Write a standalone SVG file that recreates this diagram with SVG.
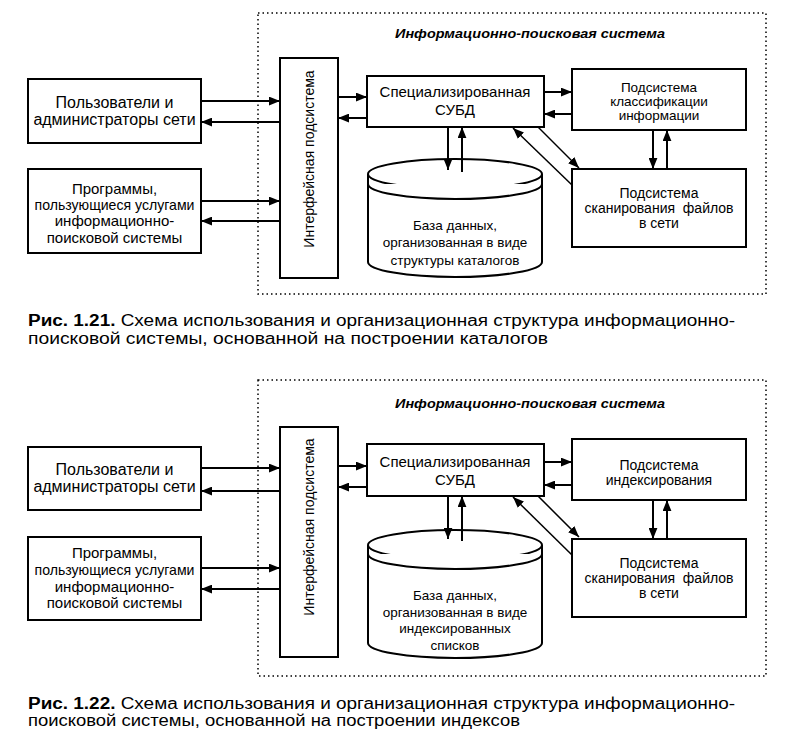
<svg xmlns="http://www.w3.org/2000/svg" width="797" height="746" viewBox="0 0 797 746">
<style>
text{font-family:"Liberation Sans","Arial",sans-serif;fill:#000}
.t{font-size:13.5px;text-anchor:middle}
.s16{font-size:16px}
.s15{font-size:15px}
.s15b{font-size:15px}
.s14{font-size:14px}
.s13{font-size:13.5px}
.ti{font-size:13px;font-weight:bold;font-style:italic;text-anchor:middle}
.cap{font-size:16px}
.box{fill:#fff;stroke:#000;stroke-width:2}
.frame{fill:none;stroke:#000;stroke-width:1.5;stroke-dasharray:1.5 3}
.a{fill:none;stroke:#000;stroke-width:2;marker-end:url(#ah)}
.d{fill:none;stroke:#000;stroke-width:1.5;marker-end:url(#ah)}
.cyl{fill:#fff;stroke:#000;stroke-width:2}
</style>
<defs>
<marker id="ah" viewBox="0 0 10 8" refX="10" refY="4" markerWidth="11" markerHeight="9" markerUnits="userSpaceOnUse" orient="auto"><path d="M0,0 L10,4 L0,8 z" fill="#000"/></marker>
</defs>

<!-- ===== Figure 1.21 ===== -->
<g id="frame1"><rect class="frame" x="258" y="13" width="508" height="281"/>
<text class="ti" x="530" y="38" textLength="270" lengthAdjust="spacingAndGlyphs">Информационно-поисковая система</text></g>

<g id="users1"><rect class="box" x="28" y="79" width="173" height="64"/>
<text class="t s16" x="114.5" y="108">Пользователи и</text>
<text class="t s16" x="114.5" y="125">администраторы сети</text></g>

<g id="programs1"><rect class="box" x="28" y="169" width="173" height="84"/>
<text class="t s15" x="114.5" y="194">Программы,</text>
<text class="t s15" x="114.5" y="210" textLength="160" lengthAdjust="spacingAndGlyphs">пользующиеся услугами</text>
<text class="t s15" x="114.5" y="226">информационно-</text>
<text class="t s15" x="114.5" y="243">поисковой системы</text></g>

<g id="iface1"><rect class="box" x="280" y="58" width="58" height="220"/>
<text class="t s14" transform="translate(314,159) rotate(-90)">Интерфейсная подсистема</text></g>

<g id="dbms1"><rect class="box" x="367" y="76" width="177" height="51"/>
<text class="t s15b" x="455" y="97">Специализированная</text>
<text class="t s15b" x="455" y="115">СУБД</text></g>

<g id="class1"><rect class="box" x="572" y="69" width="174" height="61"/>
<text class="t s13" x="659" y="92">Подсистема</text>
<text class="t s13" x="659" y="106">классификации</text>
<text class="t s13" x="659" y="120">информации</text></g>

<g id="scan1"><rect class="box" x="572" y="169" width="174" height="78"/>
<text class="t s14" x="659" y="198">Подсистема</text>
<text class="t s14" x="659" y="213" xml:space="preserve">сканирования  файлов</text>
<text class="t s14" x="659" y="228">в сети</text></g>

<g id="db1">
<path class="cyl" d="M368,174 L368,262 A87,15 0 0 0 542,262 L542,174"/>
<ellipse class="cyl" cx="455" cy="174" rx="87" ry="15"/>
<path class="cyl" fill="none" d="M368,184 A87,15 0 0 0 542,184"/>
<text class="t" x="455" y="230">База данных,</text>
<text class="t" x="455" y="247">организованная в виде</text>
<text class="t" x="455" y="265">структуры каталогов</text></g>

<g id="connectors1">
<line class="a" x1="201" y1="101" x2="280" y2="101"/>
<line class="a" x1="280" y1="122" x2="201" y2="122"/>
<line class="a" x1="201" y1="201" x2="280" y2="201"/>
<line class="a" x1="280" y1="221" x2="201" y2="221"/>
<line class="a" x1="338" y1="97" x2="367" y2="97"/>
<line class="a" x1="367" y1="118" x2="338" y2="118"/>
<line class="a" x1="544" y1="92" x2="572" y2="92"/>
<line class="a" x1="572" y1="114" x2="544" y2="114"/>
<line class="a" x1="653" y1="130" x2="653" y2="169"/>
<line class="a" x1="667" y1="169" x2="667" y2="130"/>
<line class="a" x1="448" y1="127" x2="448" y2="170"/>
<line class="a" x1="462" y1="172" x2="462" y2="127"/>
<line class="d" x1="538" y1="127" x2="579" y2="168"/>
<line class="d" x1="572" y1="185" x2="513" y2="128"/>
</g>

<g id="caption1"><text class="cap" x="28" y="326" textLength="707" lengthAdjust="spacingAndGlyphs"><tspan font-weight="bold">Рис. 1.21.</tspan> Схема использования и организационная структура информационно-</text>
<text class="cap" x="28" y="344" textLength="520" lengthAdjust="spacingAndGlyphs">поисковой системы, основанной на построении каталогов</text></g>

<!-- ===== Figure 1.22 ===== -->
<g id="frame2"><rect class="frame" x="258" y="380" width="508" height="296"/>
<text class="ti" x="530" y="408" textLength="270" lengthAdjust="spacingAndGlyphs">Информационно-поисковая система</text></g>

<g id="users2"><rect class="box" x="28" y="447" width="173" height="63"/>
<text class="t s16" x="114.5" y="475">Пользователи и</text>
<text class="t s16" x="114.5" y="492">администраторы сети</text></g>

<g id="programs2"><rect class="box" x="28" y="537" width="173" height="83"/>
<text class="t s15" x="114.5" y="558">Программы,</text>
<text class="t s15" x="114.5" y="575" textLength="160" lengthAdjust="spacingAndGlyphs">пользующиеся услугами</text>
<text class="t s15" x="114.5" y="592">информационно-</text>
<text class="t s15" x="114.5" y="608">поисковой системы</text></g>

<g id="iface2"><rect class="box" x="280" y="427" width="58" height="230"/>
<text class="t s14" transform="translate(314,527) rotate(-90)">Интерфейсная подсистема</text></g>

<g id="dbms2"><rect class="box" x="367" y="444" width="177" height="52"/>
<text class="t s15b" x="455" y="467">Специализированная</text>
<text class="t s15b" x="455" y="485">СУБД</text></g>

<g id="index2"><rect class="box" x="572" y="439" width="174" height="61"/>
<text class="t s14" x="659" y="470">Подсистема</text>
<text class="t s14" x="659" y="485">индексирования</text></g>

<g id="scan2"><rect class="box" x="572" y="539" width="174" height="78"/>
<text class="t s14" x="659" y="568">Подсистема</text>
<text class="t s14" x="659" y="583" xml:space="preserve">сканирования  файлов</text>
<text class="t s14" x="659" y="598">в сети</text></g>

<g id="db2">
<path class="cyl" d="M368,545 L368,643 A87,15 0 0 0 542,643 L542,545"/>
<ellipse class="cyl" cx="455" cy="545" rx="87" ry="15"/>
<path class="cyl" fill="none" d="M368,554 A87,15 0 0 0 542,554"/>
<text class="t" x="455" y="600">База данных,</text>
<text class="t" x="455" y="617">организованная в виде</text>
<text class="t" x="455" y="633">индексированных</text>
<text class="t" x="455" y="650">списков</text></g>

<g id="connectors2">
<line class="a" x1="201" y1="468" x2="280" y2="468"/>
<line class="a" x1="280" y1="491" x2="201" y2="491"/>
<line class="a" x1="201" y1="568" x2="280" y2="568"/>
<line class="a" x1="280" y1="589" x2="201" y2="589"/>
<line class="a" x1="338" y1="466" x2="367" y2="466"/>
<line class="a" x1="367" y1="487" x2="338" y2="487"/>
<line class="a" x1="544" y1="462" x2="572" y2="462"/>
<line class="a" x1="572" y1="485" x2="544" y2="485"/>
<line class="a" x1="653" y1="500" x2="653" y2="539"/>
<line class="a" x1="667" y1="539" x2="667" y2="500"/>
<line class="a" x1="448" y1="496" x2="448" y2="539"/>
<line class="a" x1="462" y1="541" x2="462" y2="496"/>
<line class="d" x1="538" y1="496" x2="579" y2="537"/>
<line class="d" x1="572" y1="555" x2="513" y2="497"/>
</g>

<g id="caption2"><text class="cap" x="28" y="709" textLength="707" lengthAdjust="spacingAndGlyphs"><tspan font-weight="bold">Рис. 1.22.</tspan> Схема использования и организационная структура информационно-</text>
<text class="cap" x="28" y="726" textLength="492" lengthAdjust="spacingAndGlyphs">поисковой системы, основанной на построении индексов</text></g>
</svg>
